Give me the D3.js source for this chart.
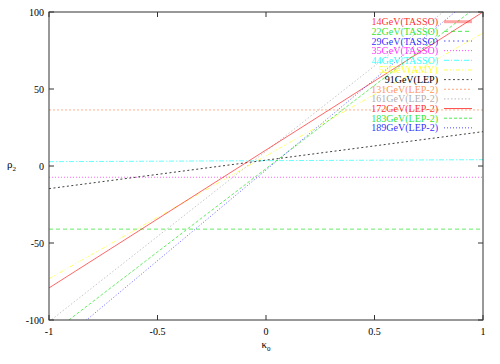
<!DOCTYPE html>
<html>
<head>
<meta charset="utf-8">
<script src="https://cdn.jsdelivr.net/npm/d3@7"></script>
<style>
  body { margin: 0; background: #fff; }
  svg { display: block; font-family: "Liberation Serif", "DejaVu Serif", serif; }
</style>
</head>
<body>
<svg id="chart" width="500" height="364"></svg>
<script>
// series: rho2 value at kappa0 = -1 and at kappa0 = +1 (straight lines)
const labels = ["14GeV(TASSO)", "22GeV(TASSO)", "29GeV(TASSO)", "35GeV(TASSO)", "44GeV(TASSO)", "52GeV(AMY)",
    "91GeV(LEP)", "131GeV(LEP-2)", "161GeV(LEP-2)", "172GeV(LEP-2)", "183GeV(LEP-2)", "189GeV(LEP-2)"];
const rhoLeft  = [null, -41, null, -7.3, 2.8, -73.2, -14.7, 36.4, -101.1, -79.2, -109.9, -120.4];
const rhoRight = [null, -41, null, -7.3, 4.1, 86.4, 22.3, 36.4, 120.3, 100, 106.5, 115.2];
const colors = ["#ff0000", "#00e000", "#0000ff", "#ff00ff", "#00ffff", "#ffff00",
    "#000000", "#ff8040", "#a0a0a0", "#ff0000", "#00e000", "#0000ff"];
const dashes = ["", "4,3", "1.5,3", "1,2", "5,2,1,2", "4,2,1,2,1,2", "2,2.5", "2,2", "1.5,2", "", "3,2", "1,2"];
const xTicks = [-1, -0.5, 0, 0.5, 1];
const yTicks = [-100, -50, 0, 50, 100];

const margin = { left: 49, top: 12, right: 17, bottom: 44 };
const W = 500, H = 364;
const svg = d3.select("#chart");

const x = d3.scaleLinear().domain([-1, 1]).range([margin.left, W - margin.right]);
const y = d3.scaleLinear().domain([-100, 100]).range([H - margin.bottom, margin.top]);

svg.append("defs").append("clipPath").attr("id", "clip")
    .append("rect")
    .attr("x", x(-1)).attr("y", y(100))
    .attr("width", x(1) - x(-1)).attr("height", y(-100) - y(100));

// series lines
const series = labels.map((name, i) => ({ name, i, a: rhoLeft[i], b: rhoRight[i] }));
const line = d3.line().x(d => x(d[0])).y(d => y(d[1]));

svg.append("g").attr("clip-path", "url(#clip)")
    .selectAll("path")
    .data(series.filter(s => s.a !== null))
    .join("path")
    .attr("d", s => line([[-1, s.a], [1, s.b]]))
    .attr("fill", "none")
    .attr("stroke", s => colors[s.i])
    .attr("stroke-width", 1)
    .attr("stroke-opacity", s => s.i === 6 ? 0.75 : 0.6)
    .attr("stroke-dasharray", s => dashes[s.i]);

// frame
const frame = svg.append("g");
frame.append("rect")
    .attr("x", x(-1)).attr("y", y(100))
    .attr("width", x(1) - x(-1)).attr("height", y(-100) - y(100))
    .attr("fill", "none").attr("stroke", "#333").attr("stroke-width", 1);

// ticks (inward, mirrored)
const tl = 5;
frame.selectAll("line.xt").data(xTicks).join("line")
    .attr("x1", d => x(d)).attr("x2", d => x(d))
    .attr("y1", y(-100)).attr("y2", y(-100) - tl)
    .attr("stroke", "#333");
frame.selectAll("line.xt2").data(xTicks).join("line")
    .attr("x1", d => x(d)).attr("x2", d => x(d))
    .attr("y1", y(100)).attr("y2", y(100) + tl)
    .attr("stroke", "#333");
frame.selectAll("line.yt").data(yTicks).join("line")
    .attr("x1", x(-1)).attr("x2", x(-1) + tl)
    .attr("y1", d => y(d)).attr("y2", d => y(d))
    .attr("stroke", "#333");
frame.selectAll("line.yt2").data(yTicks).join("line")
    .attr("x1", x(1)).attr("x2", x(1) - tl)
    .attr("y1", d => y(d)).attr("y2", d => y(d))
    .attr("stroke", "#333");

// tick labels
svg.append("g").selectAll("text").data(xTicks).join("text")
    .attr("x", d => x(d)).attr("y", y(-100) + 15)
    .attr("text-anchor", "middle")
    .attr("font-size", 10)
    .text(d => d3.format("")(d).replace("\u2212", "-"));
svg.append("g").selectAll("text").data(yTicks).join("text")
    .attr("x", x(-1) - 5).attr("y", d => y(d) + 3.5)
    .attr("text-anchor", "end")
    .attr("font-size", 10)
    .text(d => d);

// axis titles
const xt = svg.append("text").attr("x", x(0)).attr("y", 348)
    .attr("text-anchor", "middle").attr("font-size", 11);
xt.append("tspan").text("\u03ba");
xt.append("tspan").attr("font-size", 7).attr("dy", 3).text("0");

const yt = svg.append("text").attr("x", 7).attr("y", 168)
    .attr("font-size", 11);
yt.append("tspan").text("\u03c1");
yt.append("tspan").attr("font-size", 7).attr("dy", 3).text("2");

// legend
const legend = svg.append("g");
const rowH = 9.65, top0 = 21.7;
const rows = legend.selectAll("g").data(series).join("g")
    .attr("transform", s => `translate(0,${top0 + s.i * rowH})`);
rows.append("text")
    .attr("x", 438).attr("y", 3.5)
    .attr("text-anchor", "end")
    .attr("font-size", 10)
    .attr("fill", s => colors[s.i])
    .attr("fill-opacity", s => s.i === 6 ? 1 : 0.85)
    .text(s => s.name);
rows.append("line")
    .attr("x1", 444).attr("x2", 472)
    .attr("stroke", s => colors[s.i])
    .attr("stroke-width", s => s.i === 0 ? 3 : 1)
    .attr("stroke-opacity", s => s.i === 0 ? 0.35 : 0.7)
    .attr("stroke-dasharray", s => dashes[s.i]);
</script>
</body>
</html>
